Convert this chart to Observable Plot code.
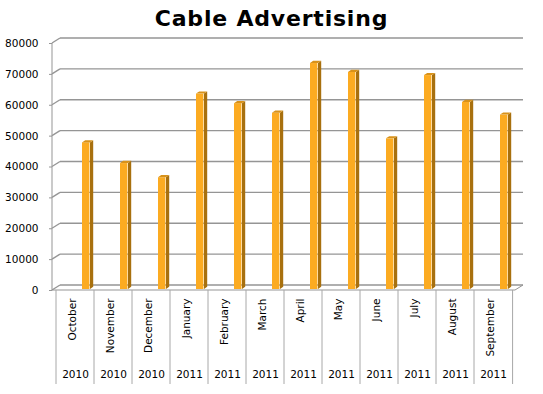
<!DOCTYPE html>
<html><head><meta charset="utf-8">
<script src="https://cdn.jsdelivr.net/npm/d3@7"></script>
<script src="https://cdn.jsdelivr.net/npm/@observablehq/plot@0.6"></script>
<style>
body{margin:0;background:#fff;}
#wrap{position:relative;width:543px;height:394px;background:#fff;}
#title{position:absolute;left:0;top:6px;width:543px;text-align:center;font-family:"DejaVu Sans",Verdana,sans-serif;font-weight:bold;font-size:22px;letter-spacing:0.8px;line-height:26px;color:#000;z-index:2;}
#wrap svg{position:absolute;left:0;top:0;}
</style></head><body>
<div id="wrap"><div id="title"></div></div>
<script>
const chartTitle = "Cable Advertising";
const months = ["October","November","December","January","February","March","April","May","June","July","August","September"];
const years = ["2010","2010","2010","2011","2011","2011","2011","2011","2011","2011","2011","2011"];
const values = [47000,40300,35700,62800,59700,56600,72700,69800,48300,68800,60100,56000];
const yTicks = [0,10000,20000,30000,40000,50000,60000,70000,80000];
const yTickLabels = ["0","10000","20000","30000","40000","50000","60000","70000","80000"];

const data = months.map((m, i) => ({month: m, year: years[i], value: values[i]}));

const FONT = '"DejaVu Sans", Verdana, sans-serif';
const GRID = "#959595";
const DX = 8, DY = -5;          // depth of the 3D wall
const BX = 3.2, BY = -2.2;      // depth of each bar
const FRONT = "#FCAB21", SIDE = "#A8700E", TOP = "#D8921A";

// back walls, grid slants, floor and category separators
function walls(index, scales, values_, dims) {
  const {x, y} = scales;
  const L = dims.marginLeft, R = dims.width - dims.marginRight;
  const bw = (R - L) / months.length;
  const y0 = y(0);
  const g = d3.create("svg:g").attr("fill", "none").attr("stroke", GRID);
  for (const t of yTicks) {
    const yy = y(t);
    g.append("line").attr("x1", L).attr("y1", yy).attr("x2", L + DX).attr("y2", yy + DY).attr("stroke-width", 1.4);
    g.append("line").attr("x1", L + DX).attr("y1", yy + DY).attr("x2", R + DX).attr("y2", yy + DY).attr("stroke-width", 1.4);
  }
  g.append("line").attr("x1", L).attr("y1", y(yTicks[yTicks.length - 1])).attr("x2", L).attr("y2", y0);
  g.append("line").attr("x1", L).attr("y1", y0).attr("x2", R).attr("y2", y0);
  g.append("line").attr("x1", R).attr("y1", y0).attr("x2", R + DX).attr("y2", y0 + DY);
  const edges = months.map(m => x(m)).concat([x(months[months.length - 1]) + bw]);
  for (const e of edges) {
    g.append("line").attr("x1", e).attr("y1", y0).attr("x2", e).attr("y2", y0 + 94).attr("stroke", "#a8a8a8");
  }
  return g.node();
}

// side and top faces of the bars
function barFaces(index, scales, values_, dims) {
  const {x, y} = scales;
  const g = d3.create("svg:g");
  data.forEach(d => {
    const xs = x(d.month);
    const x0 = xs + 26, x1 = xs + 34;
    const top = y(d.value) - 2.5, bot = y(0) - 1;
    g.append("polygon")
      .attr("points", `${x1},${top} ${x1 + BX},${top + BY} ${x1 + BX},${bot + BY} ${x1},${bot}`)
      .attr("fill", SIDE);
    g.append("polygon")
      .attr("points", `${x0},${top} ${x0 + BX},${top + BY} ${x1 + BX},${top + BY} ${x1},${top}`)
      .attr("fill", TOP);
  });
  return g.node();
}

const W = 543, H = 394, ML = 52, MR = 28, MT = 43, MB = 104;
const bw = (W - ML - MR) / months.length;

const plot = Plot.plot({
  width: W, height: H,
  marginLeft: ML, marginRight: MR, marginTop: MT, marginBottom: MB,
  style: {fontFamily: FONT, fontSize: "10.5px", background: "transparent", color: "#000", overflow: "visible"},
  x: {type: "band", domain: months, padding: 0, axis: null},
  y: {domain: [0, 80000], axis: null},
  marks: [
    walls,
    Plot.barY(data, {x: "month", y: "value", fill: FRONT, insetLeft: 26, insetRight: bw - 34, dy: -2.5, insetBottom: -1.5}),
    barFaces,
    Plot.axisY({ticks: yTicks, tickSize: 3, tickPadding: 11, tickFormat: d => yTickLabels[yTicks.indexOf(d)], label: null, stroke: GRID, fill: "#000", fontSize: 10.5}),
    Plot.text(data, {x: "month", text: "month", rotate: -90, textAnchor: "end", frameAnchor: "bottom", dy: 8, fill: "#000", fontSize: 10.5}),
    Plot.text(data, {x: "month", text: "year", frameAnchor: "bottom", dy: 87, fill: "#000", fontSize: 10.5})
  ]
});

document.getElementById("title").textContent = chartTitle;
document.getElementById("wrap").appendChild(plot);
</script>
</body></html>
